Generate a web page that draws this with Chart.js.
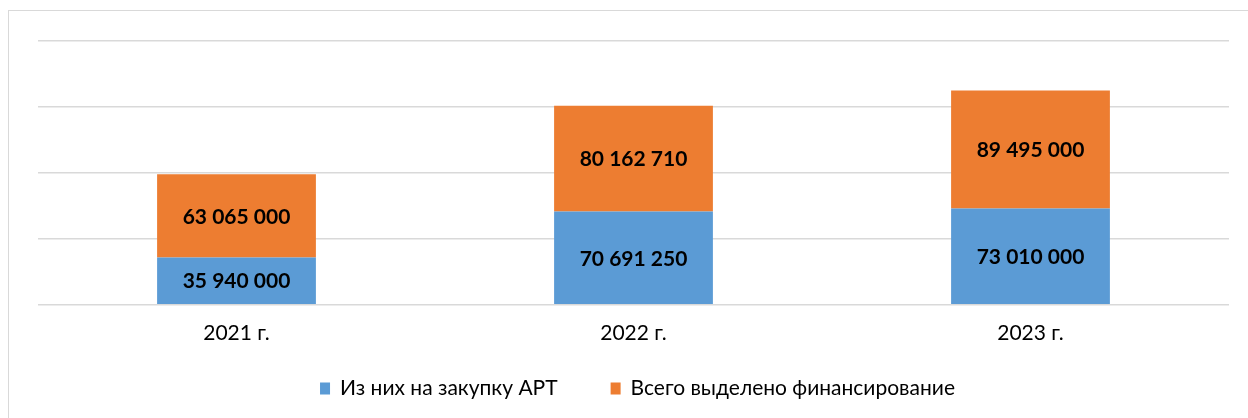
<!DOCTYPE html>
<html>
<head>
<meta charset="utf-8">
<script src="https://cdn.jsdelivr.net/npm/chart.js@4/dist/chart.umd.min.js"></script>
<style>
  html, body { margin: 0; padding: 0; background: #fff; }
  #wrap { position: relative; width: 1248px; height: 418px; overflow: hidden; }
  #frame { position: absolute; left: 8px; top: 10px; width: 1300px; height: 500px; border: 1px solid #d9d9d9; box-sizing: border-box; }
  #chart { position: absolute; left: 0; top: 0; }
</style>
</head>
<body>
<div id="wrap">
  <div id="frame"></div>
  <canvas id="chart" width="1248" height="418"></canvas>
</div>
<script>
// Data
const years = ["2021 г.", "2022 г.", "2023 г."];
const artPurchase = [35940000, 70691250, 73010000];
const totalFunding = [63065000, 80162710, 89495000];
const seriesNames = ["Из них на закупку АРТ", "Всего выделено финансирование"];

const FONT = "Lato, 'Open Sans', sans-serif";

// 35940000 -> "35 940 000"
const formatValue = (v) => String(v).replace(/\B(?=(\d{3})+(?!\d))/g, " ");

// values written in the middle of each segment
const segmentLabels = {
  id: "segmentLabels",
  afterDatasetsDraw(chart) {
    const ctx = chart.ctx;
    ctx.save();
    ctx.font = "bold 21px " + FONT;
    ctx.fillStyle = "#000";
    ctx.textAlign = "center";
    ctx.textBaseline = "middle";
    chart.data.datasets.forEach((ds, i) => {
      chart.getDatasetMeta(i).data.forEach((bar, j) => {
        const mid = (bar.y + bar.base) / 2;
        ctx.fillText(formatValue(ds.data[j]), bar.x, mid + 1);
      });
    });
    ctx.restore();
  },
};

// legend under the axis, spaced like the office chart (wide gap between items)
const bottomLegend = {
  id: "bottomLegend",
  afterDraw(chart) {
    const ctx = chart.ctx;
    const box = 10;
    const boxGap = 10;
    const itemGap = 53;
    const y = 388.5;
    ctx.save();
    ctx.font = "21px " + FONT;
    ctx.textBaseline = "middle";
    ctx.textAlign = "left";
    const items = chart.data.datasets.map((ds) => ({
      text: ds.label,
      color: ds.backgroundColor,
      w: box + boxGap + ctx.measureText(ds.label).width,
    }));
    const total = items.reduce((s, it) => s + it.w, 0) + itemGap * (items.length - 1);
    let x = 637.5 - total / 2;
    items.forEach((it) => {
      ctx.fillStyle = it.color;
      ctx.fillRect(x, y - 6, box, 12);
      ctx.fillStyle = "#000";
      ctx.fillText(it.text, x + box + boxGap, y);
      x += it.w + itemGap;
    });
    ctx.restore();
  },
};

const chartEl = document.getElementById("chart").getContext("2d");

const fundingChart = new Chart(chartEl, {
  type: "bar",
  data: {
    labels: years,
    datasets: [
      {
        label: seriesNames[0],
        data: artPurchase,
        backgroundColor: "#5B9BD5",
        borderWidth: 0,
      },
      {
        label: seriesNames[1],
        data: totalFunding,
        backgroundColor: "#ED7D31",
        borderWidth: 0,
      },
    ],
  },
  options: {
    responsive: false,
    animation: false,
    layout: {
      padding: { left: 38, right: 19, top: 41, bottom: 56 },
    },
    datasets: {
      bar: { categoryPercentage: 1, barPercentage: 0.4 },
    },
    scales: {
      x: {
        stacked: true,
        grid: { display: false, drawTicks: false },
        border: { display: false },
        ticks: {
          color: "#000",
          padding: 16,
          font: { family: FONT, size: 21 },
        },
      },
      y: {
        stacked: true,
        min: 0,
        max: 200000000,
        grid: { color: "#d9d9d9", lineWidth: 1.5, drawTicks: false },
        border: { display: false },
        ticks: { display: false, stepSize: 50000000 },
      },
    },
    plugins: {
      legend: { display: false },
      tooltip: { enabled: false },
    },
  },
  plugins: [segmentLabels, bottomLegend],
});
</script>
</body>
</html>
